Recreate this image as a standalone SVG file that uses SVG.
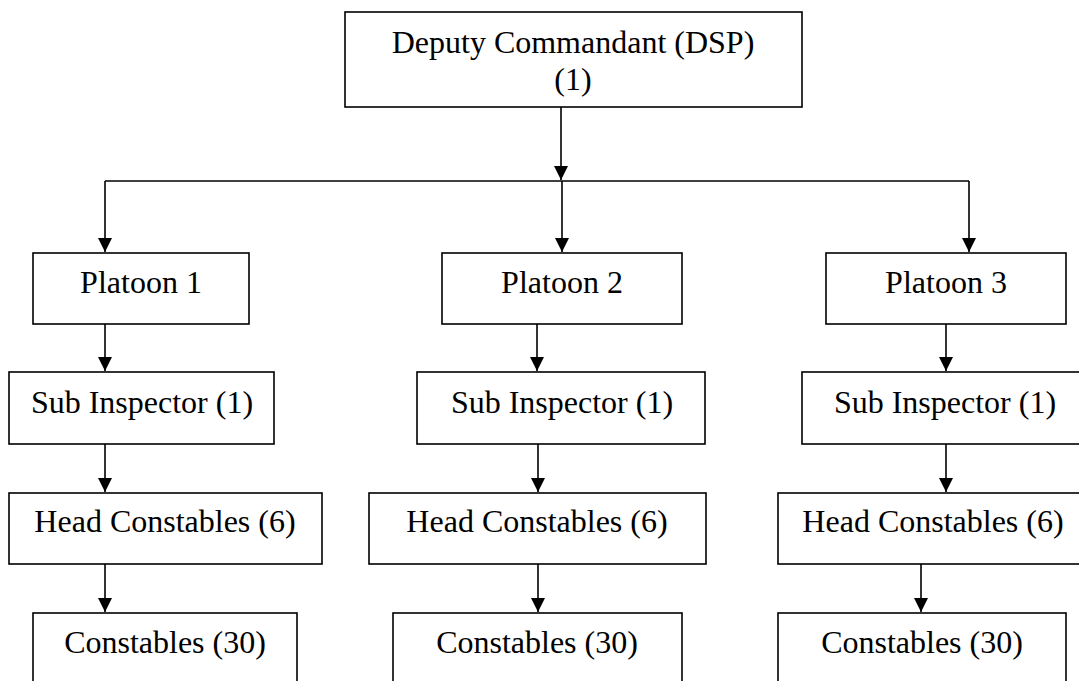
<svg xmlns="http://www.w3.org/2000/svg" width="1079" height="681" viewBox="0 0 1079 681">
<style>
.box{fill:#fff;stroke:#000;stroke-width:1.6}
.t{font-family:"Liberation Serif","Times New Roman",serif;font-size:32px;fill:#000;text-anchor:middle}
.c{fill:none;stroke:#000;stroke-width:1.6}
</style>
<defs>
<marker id="ah" markerUnits="userSpaceOnUse" markerWidth="16" markerHeight="16" viewBox="0 0 16 16" refX="14" refY="8" orient="auto">
<path d="M0,1 L14,8 L0,15 Z" fill="#000"/>
</marker>
</defs>
<rect width="1079" height="681" fill="#fff"/>
<g id="connectors">
<path class="c" d="M561,107 V180" marker-end="url(#ah)"/>
<path class="c" d="M105,181 H969"/>
<path class="c" d="M105,181 V252" marker-end="url(#ah)"/>
<path class="c" d="M562,181 V252" marker-end="url(#ah)"/>
<path class="c" d="M969,181 V252" marker-end="url(#ah)"/>
<path class="c" d="M105,324 V371" marker-end="url(#ah)"/>
<path class="c" d="M537,324 V371" marker-end="url(#ah)"/>
<path class="c" d="M946,324 V371" marker-end="url(#ah)"/>
<path class="c" d="M105,444 V492" marker-end="url(#ah)"/>
<path class="c" d="M538,444 V492" marker-end="url(#ah)"/>
<path class="c" d="M946,444 V492" marker-end="url(#ah)"/>
<path class="c" d="M105,564 V612" marker-end="url(#ah)"/>
<path class="c" d="M538,564 V612" marker-end="url(#ah)"/>
<path class="c" d="M921,564 V612" marker-end="url(#ah)"/>
</g>
<g id="dsp"><rect class="box" x="345" y="12" width="457" height="95"/><text class="t" x="573" y="53">Deputy Commandant (DSP)</text><text class="t" x="573" y="90">(1)</text></g>
<g id="p1"><rect class="box" x="33" y="253" width="216" height="71"/><text class="t" x="141" y="293">Platoon 1</text></g>
<g id="p2"><rect class="box" x="442" y="253" width="240" height="71"/><text class="t" x="562" y="293">Platoon 2</text></g>
<g id="p3"><rect class="box" x="826" y="253" width="240" height="71"/><text class="t" x="946" y="293">Platoon 3</text></g>
<g id="s1"><rect class="box" x="9" y="372" width="265" height="72"/><text class="t" x="142" y="413">Sub Inspector (1)</text></g>
<g id="s2"><rect class="box" x="417" y="372" width="288" height="72"/><text class="t" x="562" y="413">Sub Inspector (1)</text></g>
<g id="s3"><rect class="box" x="802" y="372" width="290" height="72"/><text class="t" x="945" y="413">Sub Inspector (1)</text></g>
<g id="h1"><rect class="box" x="9" y="493" width="313" height="71"/><text class="t" x="165" y="532">Head Constables (6)</text></g>
<g id="h2"><rect class="box" x="369" y="493" width="337" height="71"/><text class="t" x="537" y="532">Head Constables (6)</text></g>
<g id="h3"><rect class="box" x="778" y="493" width="320" height="71"/><text class="t" x="933" y="532">Head Constables (6)</text></g>
<g id="c1"><rect class="box" x="33" y="613" width="264" height="90"/><text class="t" x="165" y="653">Constables (30)</text></g>
<g id="c2"><rect class="box" x="393" y="613" width="289" height="90"/><text class="t" x="537" y="653">Constables (30)</text></g>
<g id="c3"><rect class="box" x="778" y="613" width="288" height="90"/><text class="t" x="922" y="653">Constables (30)</text></g>
</svg>
